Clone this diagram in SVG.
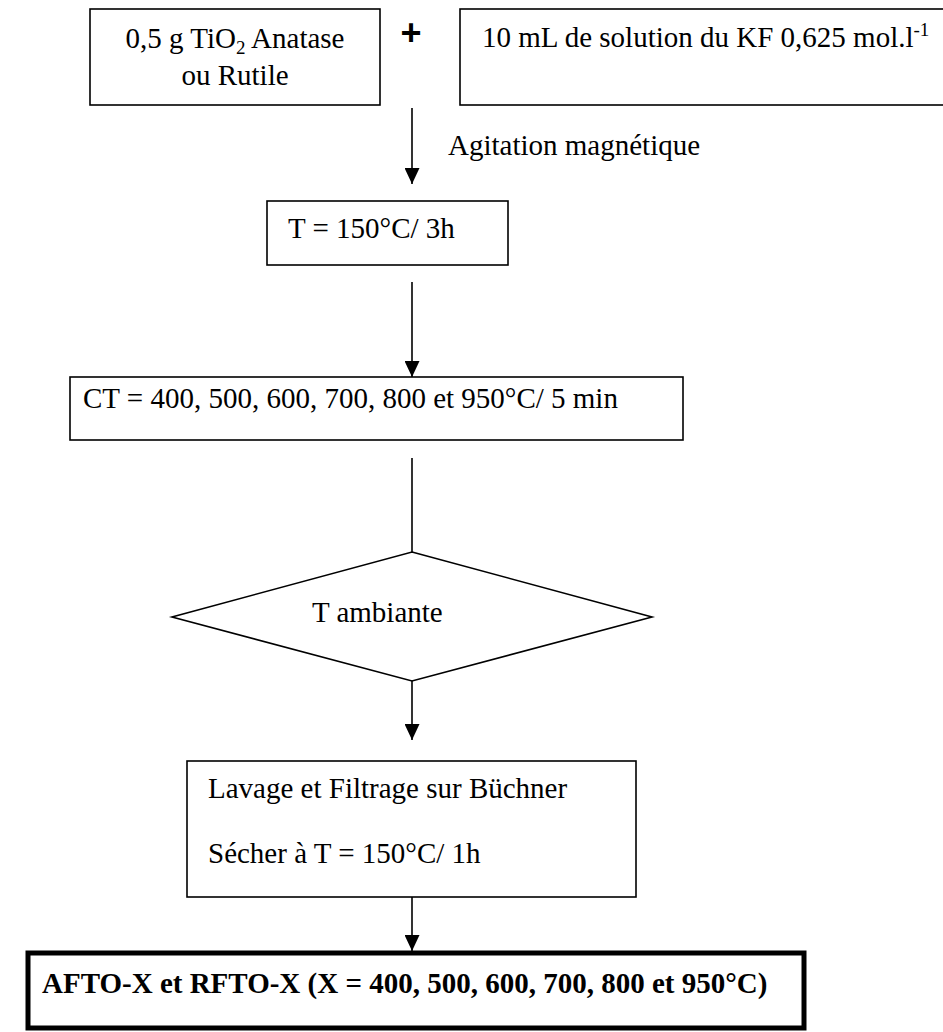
<svg xmlns="http://www.w3.org/2000/svg" width="943" height="1032" viewBox="0 0 943 1032">
  <style>
    .box { fill: #ffffff; stroke: #000000; stroke-width: 1.6; }
    .bold-box { fill: #ffffff; stroke: #000000; stroke-width: 5; }
    .txt { font-family: "Liberation Serif", "Times New Roman", serif; font-size: 29px; fill: #000000; }
    .btxt { font-family: "Liberation Serif", "Times New Roman", serif; font-size: 29px; font-weight: bold; fill: #000000; }
    .link { stroke: #000000; stroke-width: 1.6; fill: none; }
  </style>
  <defs>
    <marker id="arrow" viewBox="0 0 16 15" refX="16" refY="7.5" markerWidth="16" markerHeight="15" markerUnits="userSpaceOnUse" orient="auto">
      <path d="M0,0 L16,7.5 L0,15 Z" fill="#000000"/>
    </marker>
  </defs>

  <rect width="943" height="1032" fill="#ffffff"/>

  <!-- reactant: titanium dioxide -->
  <g id="tio2">
    <rect class="box" x="90" y="9" width="290" height="96"/>
    <text class="txt" x="235" y="48" text-anchor="middle">0,5 g TiO<tspan font-size="19" dy="6">2</tspan><tspan dy="-6"> Anatase</tspan></text>
    <text class="txt" x="235" y="85" text-anchor="middle">ou Rutile</text>
  </g>

  <!-- plus sign between the reactants -->
  <g id="plus">
    <text x="411" y="45" text-anchor="middle" font-family="Liberation Sans, Arial, sans-serif" font-size="36" font-weight="bold">+</text>
  </g>

  <!-- reactant: KF solution -->
  <g id="kf">
    <rect class="box" x="460" y="9" width="500" height="96"/>
    <text class="txt" x="482" y="47">10 mL de solution du KF 0,625 mol.l<tspan font-size="19" dy="-11">-1</tspan></text>
  </g>

  <!-- heating step -->
  <g id="heat">
    <rect class="box" x="267" y="201" width="241" height="64"/>
    <text class="txt" x="288" y="238">T = 150°C/ 3h</text>
  </g>

  <!-- calcination step -->
  <g id="calcination">
    <rect class="box" x="70" y="377" width="613" height="63"/>
    <text class="txt" x="83" y="408">CT = 400, 500, 600, 700, 800 et 950°C/ 5 min</text>
  </g>

  <!-- cooling decision -->
  <g id="cooling">
    <polygon class="box" points="412,552 652,617 412,681 172,617"/>
    <text class="txt" x="312" y="622">T ambiante</text>
  </g>

  <!-- washing and drying -->
  <g id="washing">
    <rect class="box" x="187" y="761" width="449" height="136"/>
    <text class="txt" x="208" y="798">Lavage et Filtrage sur Büchner</text>
    <text class="txt" x="208" y="863">Sécher à T = 150°C/ 1h</text>
  </g>

  <!-- final products -->
  <g id="products">
    <rect class="bold-box" x="28" y="953" width="776" height="75"/>
    <text class="btxt" x="42" y="993">AFTO-X et RFTO-X (X = 400, 500, 600, 700, 800 et 950°C)</text>
  </g>

  <!-- connectors -->
  <g id="connectors">
    <line class="link" x1="412" y1="108" x2="412" y2="184" marker-end="url(#arrow)"/>
    <text class="txt" x="448" y="155">Agitation magnétique</text>
    <line class="link" x1="412" y1="282" x2="412" y2="377" marker-end="url(#arrow)"/>
    <line class="link" x1="412" y1="458" x2="412" y2="552"/>
    <line class="link" x1="412" y1="681" x2="412" y2="740" marker-end="url(#arrow)"/>
    <line class="link" x1="412" y1="897" x2="412" y2="951" marker-end="url(#arrow)"/>
  </g>
</svg>
